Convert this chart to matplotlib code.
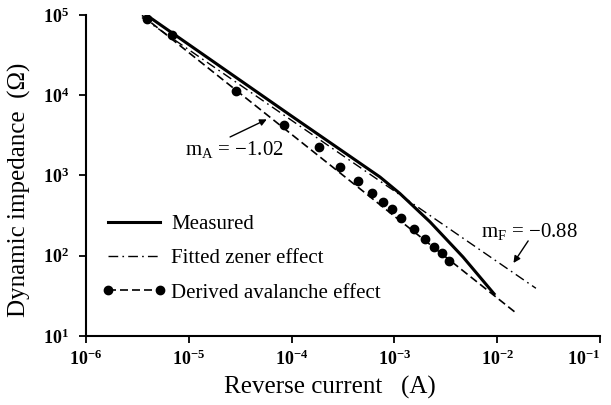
import numpy as np
import matplotlib
matplotlib.use("Agg")
import matplotlib.pyplot as plt
from matplotlib.lines import Line2D
from matplotlib.ticker import LogLocator, FuncFormatter

plt.rcParams['font.family'] = ['Liberation Serif', 'DejaVu Serif']
plt.rcParams['mathtext.fontset'] = 'custom'
plt.rcParams['mathtext.rm'] = 'Liberation Serif'
plt.rcParams['mathtext.default'] = 'regular'

# measured dynamic impedance vs reverse current
meas_i = [3.47e-6, 9.6e-5, 7.24e-4, 1.13e-3, 2.22e-3, 4.65e-3, 9.53e-3]
meas_z = [1.1e5, 5.7e3, 957, 597, 264, 96.4, 32.4]

# fitted zener line (slope -0.88)
zener_i = [3.5e-6, 2.38e-2]
zener_z = [9.3e4, 39.3]

# derived avalanche points and fit line (slope -1.02)
aval_i = [3.89e-6, 6.8e-6, 2.88e-5, 8.43e-5, 1.86e-4, 2.96e-4, 4.40e-4, 6.01e-4,
          7.80e-4, 9.48e-4, 1.15e-3, 1.56e-3, 1.99e-3, 2.43e-3, 2.88e-3, 3.42e-3]
aval_z = [8.9e4, 5.6e4, 1.13e4, 4.26e3, 2.28e3, 1.29e3, 854, 611,
          471, 379, 297, 214, 160, 127, 107, 86.7]
aval_fit_i = [3.5e-6, 1.57e-2]
aval_fit_z = [9.9e4, 18.8]

fig = plt.figure(figsize=(6.11, 4.05), dpi=100)
ax = fig.add_axes([0.1408, 0.1704, 0.8412, 0.7926])

ax.plot(zener_i, zener_z, color='k', lw=1.0, dashes=(7, 3, 1.2, 3))
ax.plot(aval_fit_i, aval_fit_z, color='k', lw=1.2, dashes=(4.8, 2.4))
ax.plot(meas_i, meas_z, color='k', lw=2.2, solid_capstyle='butt')
ax.plot(aval_i, aval_z, 'o', color='k', ms=6, ls='none')

ax.set_xscale('log')
ax.set_yscale('log')
ax.set_xlim(1e-6, 1e-1)
ax.set_ylim(1e1, 1e5)

ax.xaxis.set_major_locator(LogLocator(base=10, numticks=10))
ax.yaxis.set_major_locator(LogLocator(base=10, numticks=10))
ax.minorticks_off()
fmt = FuncFormatter(lambda v, p: r'10$^{%d}$' % round(np.log10(v)) if v > 0 else '')
ax.xaxis.set_major_formatter(fmt)
ax.yaxis.set_major_formatter(fmt)
ax.tick_params(axis='both', which='major', direction='out', length=5, width=1.3,
               labelsize=13, color='k')
ax.tick_params(axis='y', pad=7)
ax.tick_params(axis='x', pad=5)

for s in ['top', 'right']:
    ax.spines[s].set_visible(False)
for s in ['left', 'bottom']:
    ax.spines[s].set_linewidth(1.5)

ax.set_xlabel('Reverse current   (A)', fontsize=18)
ax.set_ylabel('Dynamic impedance  (Ω)', fontsize=18)
ax.xaxis.set_label_coords(0.475, -0.125)
ax.yaxis.set_label_coords(-0.108, 0.455)

arrow = dict(arrowstyle='-|>', color='k', lw=1.0, mutation_scale=10,
             shrinkA=0, shrinkB=0)
ax.text(2.75e-5, 2.08e3, 'm$_{A}$ = \u22121.02', ha='center', va='center', fontsize=15)
ax.annotate('', xy=(5.73e-5, 5.0e3), xytext=(2.52e-5, 3.02e3), arrowprops=arrow)
ax.text(2.04e-2, 203, 'm$_{F}$ = \u22120.88', ha='center', va='center', fontsize=15)
ax.annotate('', xy=(1.44e-2, 81.3), xytext=(2.0e-2, 153), arrowprops=arrow)

handles = [
    Line2D([], [], color='k', lw=2.2),
    Line2D([], [], color='k', lw=1.0, dashes=(7, 3, 1.2, 3)),
    Line2D([], [], color='k', lw=1.2, dashes=(4.8, 2.4), marker='o', ms=6),
]
labels = ['Measured', 'Fitted zener effect', 'Derived avalanche effect']
ax.legend(handles, labels, loc='upper left', bbox_to_anchor=(0.03, 0.378),
          frameon=False, fontsize=15, handlelength=3.1, handletextpad=0.25,
          labelspacing=0.7, borderpad=0, borderaxespad=0, numpoints=2)

fig.canvas.draw()
for lab in ax.get_xticklabels() + ax.get_yticklabels():
    lab.set_fontweight('bold')
# last x label would run off the right edge
for t in ax.xaxis.get_major_ticks():
    if abs(t.get_loc() - 1e-1) < 1e-9:
        t.label1.set_horizontalalignment('right')

fig.savefig('out.png', dpi=100)
